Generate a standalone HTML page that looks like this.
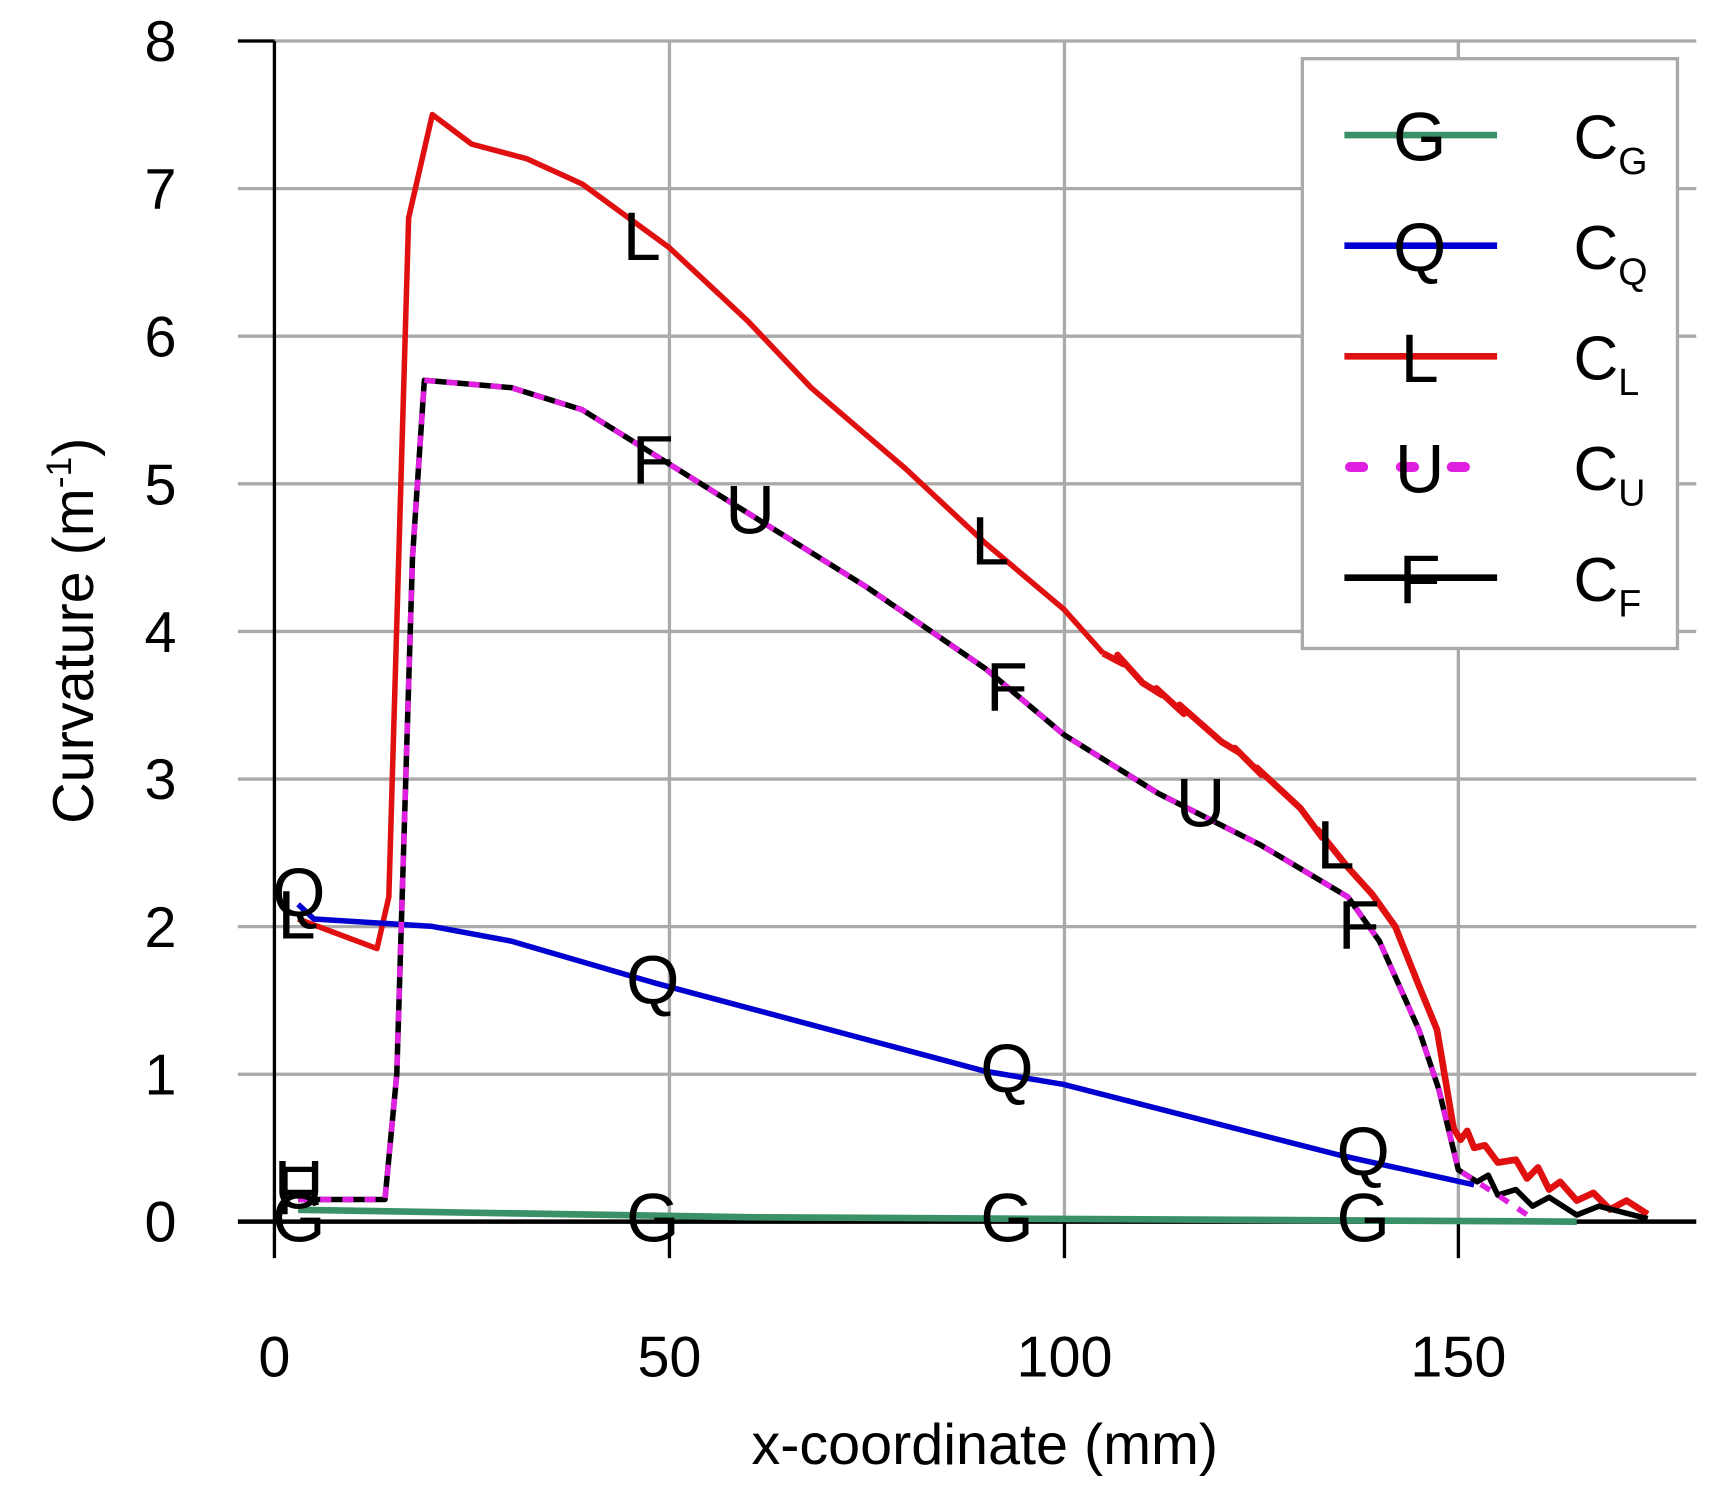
<!DOCTYPE html>
<html><head><meta charset="utf-8"><style>
html,body{margin:0;padding:0;background:#fff;}
svg{display:block;}
text{font-family:"Liberation Sans",sans-serif;}
</style></head><body>
<svg width="1735" height="1495" viewBox="0 0 1568 1351" xmlns="http://www.w3.org/2000/svg">
<rect width="1568" height="1351" fill="#fff"/>
<g stroke="#aaa" stroke-width="3">
<line x1="215" y1="37" x2="1533" y2="37"/>
<line x1="215" y1="170.4" x2="1533" y2="170.4"/>
<line x1="215" y1="303.8" x2="1533" y2="303.8"/>
<line x1="215" y1="437.2" x2="1533" y2="437.2"/>
<line x1="215" y1="570.6" x2="1533" y2="570.6"/>
<line x1="215" y1="704" x2="1533" y2="704"/>
<line x1="215" y1="837.4" x2="1533" y2="837.4"/>
<line x1="215" y1="970.8" x2="1533" y2="970.8"/>
<line x1="605" y1="37" x2="605" y2="1104"/>
<line x1="962" y1="37" x2="962" y2="1104"/>
<line x1="1318" y1="37" x2="1318" y2="1104"/>
</g>
<g stroke="#000" stroke-width="3">
<line x1="248" y1="37" x2="248" y2="1137"/>
<line x1="605" y1="1104" x2="605" y2="1137"/>
<line x1="962" y1="1104" x2="962" y2="1137"/>
<line x1="1318" y1="1104" x2="1318" y2="1137"/>
<line x1="215" y1="37" x2="248" y2="37"/>
</g>
<g fill="none" stroke-linejoin="round">
<path stroke="#e01010" stroke-width="5" d="M269.4,830.5L340.7,857.2L351.4,810.5L369.3,196.9L390.7,103.5L426.3,130.2L476.3,143.5L526.2,166.2L604.7,223.6L676,290.3L733,350.3L818.6,423.7L890,490.4L961.3,550.4L997,590.4"/>
<path stroke="#e01010" stroke-width="6" d="M997,590.4L1015,600L1010,592L1032.6,617.1L1050,628L1045,622L1070,645L1066,637L1104,670.4L1120,680L1116,676L1140,700L1136,694L1175.3,730.5L1195,757L1191,750L1218.1,783.8L1240,808L1260.9,837.2L1282.3,890.6L1298.7,930.6L1313.7,1020L1320,1030L1326,1022L1332.2,1037.3L1342,1035L1353.6,1050.6L1370,1048L1380,1065L1390,1055L1400,1075L1410,1068L1425,1085L1440,1078L1455,1093L1470,1085L1489.1,1097.3"/>
<path stroke="#0000d0" stroke-width="5" d="M269.4,817.2L283.7,830.5L390.7,837.2L462,850.5L590.4,887.9L890,968L961.3,980L1211,1044L1332.2,1070.7"/>
<path stroke="#000" stroke-width="5" d="M269.4,1084L347.9,1084L358.6,970.6L372.8,503.7L383.5,343.6L462,350.3L526.2,370.3L590.4,410.3L676,463.7L783,530.4L890,603.8L961.3,663.8L1046.9,717.1L1139.6,763.8L1218.1,810.5L1246.6,850.5L1282.3,930.6L1300.2,984L1318,1057.3L1335,1068L1345,1062L1353.6,1080L1370,1075L1385,1090L1400,1082L1425,1098L1445,1090L1489.1,1101.3"/>
<path stroke="#e020e0" stroke-width="5" stroke-dasharray="10,10" d="M269.4,1084L347.9,1084L358.6,970.6L372.8,503.7L383.5,343.6L462,350.3L526.2,370.3L590.4,410.3L676,463.7L783,530.4L890,603.8L961.3,663.8L1046.9,717.1L1139.6,763.8L1218.1,810.5L1246.6,850.5L1282.3,930.6L1300.2,984L1318,1057.3L1353.6,1080L1389.3,1104"/>
</g>
<line x1="215" y1="1104" x2="1533" y2="1104" stroke="#000" stroke-width="4"/>
<path fill="none" stroke="#3a9168" stroke-width="6" d="M269.4,1093.3L676,1100L1425,1104"/>
<g font-size="52" fill="#000" text-anchor="middle">
<text x="145" y="55">8</text><text x="145" y="189">7</text><text x="145" y="322">6</text>
<text x="145" y="456">5</text><text x="145" y="589">4</text><text x="145" y="722">3</text>
<text x="145" y="856">2</text><text x="145" y="989">1</text><text x="145" y="1122">0</text>
<text x="248" y="1244">0</text><text x="605" y="1244">50</text><text x="962" y="1244">100</text><text x="1318" y="1244">150</text>
<text x="890" y="1323">x-coordinate (mm)</text>
<text transform="translate(84,570) rotate(-90)">Curvature (m<tspan font-size="32" dy="-20">-1</tspan><tspan dy="20">)</tspan></text>
</g>
<g font-size="62" fill="#000" text-anchor="middle">
<text x="580" y="235">L</text><text x="895" y="510">L</text><text x="1207" y="785">L</text><text x="268" y="848">L</text>
<text x="270" y="828">Q</text><text x="590" y="907">Q</text><text x="910" y="987">Q</text><text x="1232" y="1062">Q</text>
<text x="270" y="1122">G</text><text x="590" y="1122">G</text><text x="910" y="1122">G</text><text x="1232" y="1122">G</text>
<text x="590" y="437">F</text><text x="910" y="642">F</text><text x="1228" y="857">F</text><text x="268" y="1097">F</text>
<text x="678" y="482">U</text><text x="1085" y="747">U</text><text x="270" y="1092">U</text>
</g>
<rect x="1177" y="53" width="339" height="533" fill="#fff" stroke="#aaa" stroke-width="3"/>
<g stroke-width="6">
<line x1="1215" y1="122" x2="1353" y2="122" stroke="#3a9168"/>
<line x1="1215" y1="222" x2="1353" y2="222" stroke="#0000d0"/>
<line x1="1215" y1="322" x2="1353" y2="322" stroke="#e01010"/>
<line x1="1220" y1="422" x2="1350" y2="422" stroke="#e020e0" stroke-width="9" stroke-dasharray="12,34" stroke-linecap="round"/>
<line x1="1215" y1="522" x2="1353" y2="522" stroke="#000"/>
</g>
<g font-size="62" text-anchor="middle">
<text x="1283" y="145">G</text><text x="1283" y="245">Q</text><text x="1283" y="345">L</text><text x="1283" y="445">U</text><text x="1283" y="545">F</text>
</g>
<g font-size="56">
<text x="1422" y="143">C<tspan font-size="34" dy="14">G</tspan></text>
<text x="1422" y="243">C<tspan font-size="34" dy="14">Q</tspan></text>
<text x="1422" y="343">C<tspan font-size="34" dy="14">L</tspan></text>
<text x="1422" y="443">C<tspan font-size="34" dy="14">U</tspan></text>
<text x="1422" y="543">C<tspan font-size="34" dy="14">F</tspan></text>
</g>
</svg>
</body></html>
